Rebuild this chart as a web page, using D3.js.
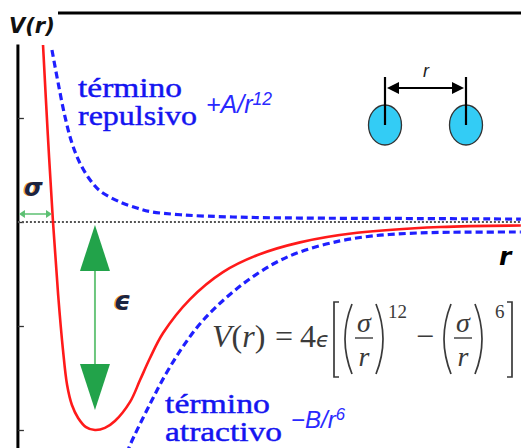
<!DOCTYPE html>
<html><head><meta charset="utf-8">
<script src="https://cdn.jsdelivr.net/npm/d3@7"></script>
<style>html,body{margin:0;padding:0;background:#fff;} svg{display:block;}</style>
</head><body>
<svg id="chart" width="521" height="448"></svg>
<script>
// ---- data (r in units of sigma, V in units of epsilon) ----
const totalR = [0.971,0.985,1.000,1.015,1.029,1.041,1.055,1.073,1.096,1.122,1.151,1.180,1.224,1.253,1.282,1.320,1.398,1.494,1.593,1.718,1.884,2.125,2.360];
const totalV = [0.851,0.418,0.000,-0.351,-0.615,-0.784,-0.880,-0.942,-0.986,-1.000,-0.990,-0.957,-0.865,-0.760,-0.654,-0.534,-0.372,-0.241,-0.160,-0.098,-0.052,-0.024,-0.017];
const repR = [0.997,1.015,1.035,1.055,1.078,1.108,1.137,1.195,1.244,1.282,1.378,1.523,1.718,2.009,2.360];
const repV = [0.827,0.668,0.505,0.380,0.284,0.202,0.149,0.096,0.067,0.050,0.034,0.024,0.019,0.017,0.014];
const attR = [1.215,1.224,1.282,1.328,1.375,1.422,1.477,1.552,1.640,1.718,1.834,1.930,2.029,2.125,2.360];
const attV = [-1.111,-1.072,-0.875,-0.731,-0.606,-0.500,-0.404,-0.298,-0.202,-0.144,-0.091,-0.067,-0.055,-0.050,-0.048];
const yTicks = [-1, -0.5, 0, 0.5];
const rAxis = 0.898, rEnd = 2.36, vTop = 0.853;
const sigmaR = 1.0, minR = 1.122, wellDepth = -1.0;

const W = 521, H = 448;
const svg = d3.select("#chart");
const x = d3.scaleLinear().domain([1, 2]).range([53, 397]);
const y = d3.scaleLinear().domain([-1, 0.5]).range([430, 118]);
const X0 = x(rAxis);

// top border line
svg.append("line").attr("x1", 58).attr("x2", W).attr("y1", 13).attr("y2", 13)
  .attr("stroke", "#000").attr("stroke-width", 3);

// y axis
svg.append("line").attr("x1", X0).attr("x2", X0).attr("y1", y(vTop)).attr("y2", H)
  .attr("stroke", "#000").attr("stroke-width", 3);
const ax = svg.append("g").attr("transform", `translate(${X0},0)`)
  .call(d3.axisRight(y).tickValues(yTicks).tickSize(6).tickFormat(""));
ax.select(".domain").remove();
ax.selectAll("line").attr("stroke", "#333").attr("stroke-width", 1.3);

// zero line
svg.append("line").attr("x1", X0).attr("x2", W).attr("y1", y(0)).attr("y2", y(0))
  .attr("stroke", "#555").attr("stroke-width", 2).attr("stroke-dasharray", "2,2");

const line = d3.line().x(d => x(d[0])).y(d => y(d[1])).curve(d3.curveCatmullRom.alpha(0.5));

svg.append("path").datum(d3.zip(repR, repV)).attr("d", line)
  .attr("fill", "none").attr("stroke", "#1f1fff").attr("stroke-width", 3.2).attr("stroke-dasharray", "7,4");
svg.append("path").datum(d3.zip(attR, attV)).attr("d", line)
  .attr("fill", "none").attr("stroke", "#1f1fff").attr("stroke-width", 3.2).attr("stroke-dasharray", "7,4");
svg.append("path").datum(d3.zip(totalR, totalV)).attr("d", line)
  .attr("fill", "none").attr("stroke", "#ff1a1a").attr("stroke-width", 2.6);

// sigma arrow
const sy = 214, green = "#5cc072";
svg.append("line").attr("x1", X0 + 3).attr("x2", x(sigmaR) - 3).attr("y1", sy).attr("y2", sy)
  .attr("stroke", green).attr("stroke-width", 1.5);
svg.append("path").attr("d", `M${X0+1},${sy} l6,-4 v8 z`).attr("fill", green);
svg.append("path").attr("d", `M${x(sigmaR)-1},${sy} l-6,-4 v8 z`).attr("fill", green);

// epsilon arrow
const ex = x(minR), eTop = y(0) + 3, eBot = y(wellDepth) - 20;
svg.append("line").attr("x1", ex).attr("x2", ex).attr("y1", eTop + 40).attr("y2", eBot - 40)
  .attr("stroke", "#6cc67e").attr("stroke-width", 2);
svg.append("path").attr("d", `M${ex},${eTop} L${ex-15},${eTop+46} L${ex+15},${eTop+46} Z`).attr("fill", "#22a34a");
svg.append("path").attr("d", `M${ex},${eBot} L${ex-15},${eBot-46} L${ex+15},${eBot-46} Z`).attr("fill", "#22a34a");

// glyph labels with orange fringe
function glowText(tx, ty, txt, size) {
  svg.append("text").attr("x", tx - 1.2).attr("y", ty).text(txt)
    .attr("font-family", "DejaVu Sans").attr("font-weight", "bold").attr("font-style", "oblique")
    .attr("font-size", size).attr("fill", "#f0a040");
  svg.append("text").attr("x", tx).attr("y", ty).text(txt)
    .attr("font-family", "DejaVu Sans").attr("font-weight", "bold").attr("font-style", "oblique")
    .attr("font-size", size).attr("fill", "#1c2440");
}
glowText(24, 196, "σ", 24);
glowText(114, 310, "ϵ", 26);

// axis labels
svg.append("text").attr("x", 9).attr("y", 33).text("V(r)")
  .attr("font-family", "DejaVu Sans").attr("font-weight", "bold").attr("font-style", "oblique")
  .attr("font-size", 21).attr("fill", "#111");
svg.append("text").attr("x", 499).attr("y", 265).text("r")
  .attr("font-family", "DejaVu Sans").attr("font-weight", "bold").attr("font-style", "oblique")
  .attr("font-size", 25).attr("fill", "#000");

// term labels
const blue = "#1414f0";
function termLabel(tx, ty1, l1, w1, l2, w2) {
  const t = svg.append("text").attr("font-family", "'Liberation Serif', 'Times New Roman', serif")
    .attr("font-size", 28).attr("fill", blue).attr("stroke", blue).attr("stroke-width", 0.45);
  t.append("tspan").attr("x", tx).attr("y", ty1).attr("textLength", w1).attr("lengthAdjust", "spacingAndGlyphs").text(l1);
  t.append("tspan").attr("x", tx).attr("y", ty1 + 28).attr("textLength", w2).attr("lengthAdjust", "spacingAndGlyphs").text(l2);
}
termLabel(78, 97, "término", 104, "repulsivo", 119);
termLabel(165, 413, "término", 105, "atractivo", 117);
function powLabel(tx, ty, base, exp, size) {
  const t = svg.append("text").attr("x", tx).attr("y", ty)
    .attr("font-family", "Liberation Sans").attr("font-style", "italic").attr("font-size", size).attr("fill", "#2a2aff");
  t.append("tspan").text(base);
  t.append("tspan").attr("dy", -8).attr("font-size", size * 0.7).text(exp);
}
powLabel(206, 113, "+A/r", "12", 25);
powLabel(291, 428, "−B/r", "6", 24);

// molecules
const mol = svg.append("g");
[385, 466].forEach(cx => {
  mol.append("ellipse").attr("cx", cx).attr("cy", 125).attr("rx", 16.5).attr("ry", 20)
    .attr("fill", "#33ccf5").attr("stroke", "#333").attr("stroke-width", 1.3);
  mol.append("line").attr("x1", cx).attr("x2", cx).attr("y1", 77).attr("y2", 125)
    .attr("stroke", "#000").attr("stroke-width", 2.2);
});
mol.append("line").attr("x1", 392).attr("x2", 459).attr("y1", 88).attr("y2", 88)
  .attr("stroke", "#000").attr("stroke-width", 2.2);
mol.append("path").attr("d", "M387,88 l12,-6 v12 z").attr("fill", "#000");
mol.append("path").attr("d", "M464,88 l-12,-6 v12 z").attr("fill", "#000");
mol.append("text").attr("x", 423).attr("y", 77).text("r")
  .attr("font-family", "Liberation Sans").attr("font-style", "italic").attr("font-size", 18).attr("fill", "#222");

// formula
const fc = "#3a3a3a";
const f = svg.append("g").attr("fill", fc).attr("font-family", "Liberation Serif");
const base = 347;
const t1 = f.append("text").attr("x", 212).attr("y", base).attr("font-size", 32);
t1.append("tspan").attr("font-style", "italic").text("V");
t1.append("tspan").text("(");
t1.append("tspan").attr("font-style", "italic").text("r");
t1.append("tspan").text(")");
f.append("text").attr("x", 284).attr("y", base).attr("font-size", 32).attr("text-anchor", "middle").text("=");
const t4 = f.append("text").attr("x", 300).attr("y", base).attr("font-size", 32);
t4.append("tspan").text("4");
t4.append("tspan").attr("font-family", "DejaVu Sans").attr("font-style", "oblique").attr("font-size", 22).text("ϵ");
const dstroke = (d) => f.append("path").attr("d", d).attr("fill", "none").attr("stroke", fc).attr("stroke-width", 1.7);
dstroke("M339,302 H334 V377 H339");
dstroke("M507,302 H512 V377 H507");
[[364, 388, "12"], [463, 495, "6"]].forEach(([cx, ex2, pw]) => {
  dstroke(`M${cx-12},304 Q${cx-26},339 ${cx-12},374`);
  dstroke(`M${cx+12},304 Q${cx+26},339 ${cx+12},374`);
  f.append("text").attr("x", cx).attr("y", 332).attr("text-anchor", "middle").attr("font-size", 28).attr("font-style", "italic").text("σ");
  f.append("line").attr("x1", cx - 9).attr("x2", cx + 9).attr("y1", 338).attr("y2", 338).attr("stroke", fc).attr("stroke-width", 1.4);
  f.append("text").attr("x", cx).attr("y", 366).attr("text-anchor", "middle").attr("font-size", 28).attr("font-style", "italic").text("r");
  f.append("text").attr("x", ex2).attr("y", 318).attr("font-size", 19).text(pw);
});
f.append("text").attr("x", 425).attr("y", base).attr("text-anchor", "middle").attr("font-size", 32).text("−");
</script>
</body></html>
